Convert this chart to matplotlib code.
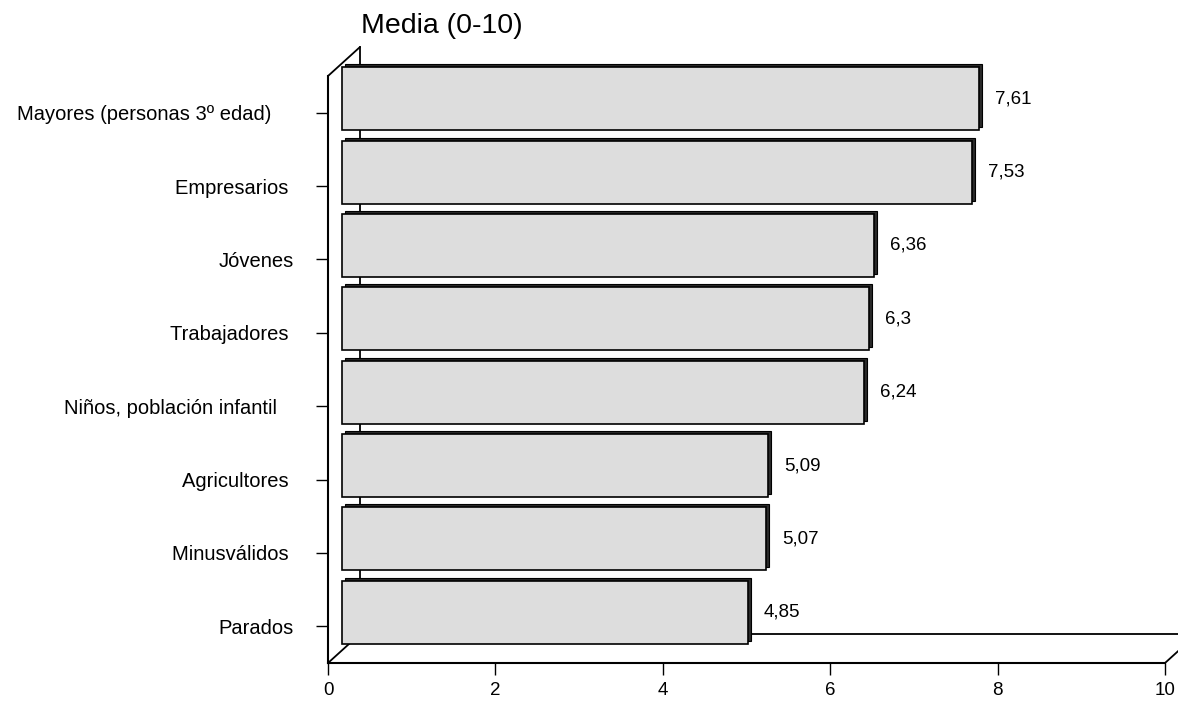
import numpy as np
import matplotlib.pyplot as plt
from matplotlib.transforms import offset_copy

# datos
categorias = ["Mayores (personas 3º edad)    ", "Empresarios ", "Jóvenes", "Trabajadores ",
              "Niños, población infantil   ", "Agricultores ", "Minusválidos ", "Parados"]
medias = [7.61, 7.53, 6.36, 6.3, 6.24, 5.09, 5.07, 4.85]
etiquetas = ["7,61", "7,53", "6,36", "6,3", "6,24", "5,09", "5,07", "4,85"]
xticks = [0, 2, 4, 6, 8, 10]

plt.rcParams['font.family'] = ['Liberation Sans', 'DejaVu Sans']

fig = plt.figure(figsize=(11.78, 7.02), dpi=100)
ax = fig.add_axes([328 / 1178, 39 / 702, 837 / 1178, 587 / 702])

y = np.arange(len(categorias))
# desplazamiento de profundidad (efecto 3D)
frente = offset_copy(ax.transData, fig=fig, x=14, y=14, units='dots')
sombra = offset_copy(ax.transData, fig=fig, x=17, y=17, units='dots')
fondo = offset_copy(ax.transAxes, fig=fig, x=32, y=29, units='dots')

ax.barh(y, medias, height=0.86, color='#2a2a2a', edgecolor='black', linewidth=0.8,
        transform=sombra, zorder=3, clip_on=False)
ax.barh(y, medias, height=0.86, color='#dddddd', edgecolor='black', linewidth=1.2,
        transform=frente, zorder=4, clip_on=False)

for i in range(len(medias)):
    ax.annotate(etiquetas[i], xy=(medias[i], y[i]), xytext=(30, 14), textcoords='offset pixels',
                ha='left', va='center', fontsize=13.5, zorder=5)

# paredes del fondo
ax.plot([0, 0], [0, 1], transform=fondo, color='black', lw=1.3, zorder=1, clip_on=False)
ax.plot([0, 1.2], [0, 0], transform=fondo, color='black', lw=1.3, zorder=1, clip_on=False)
for pt in [(0, 1), (0, 0), (1, 0)]:
    ax.annotate('', xy=pt, xycoords='axes fraction', xytext=(32, 29), textcoords='offset pixels',
                arrowprops=dict(arrowstyle='-', shrinkA=0, shrinkB=0, lw=1.3, color='black'),
                annotation_clip=False, zorder=1)

ax.annotate('Media (0-10)', xy=(0, 1), xycoords='axes fraction', xytext=(33, 43),
            textcoords='offset pixels', ha='left', va='baseline', fontsize=20.5)

ax.set_xlim(0, 10)
ax.set_ylim(len(categorias) - 0.5, -0.5)
ax.set_xticks(xticks)
ax.set_yticks(y, categorias)
ax.tick_params(axis='x', length=8.6, width=1, pad=5, labelsize=13.5)
ax.tick_params(axis='y', length=8.6, width=1, pad=16, labelsize=14.5)
for s in ['top', 'right']:
    ax.spines[s].set_visible(False)
for s in ['left', 'bottom']:
    ax.spines[s].set_linewidth(1.5)
ax.patch.set_alpha(0)

plt.savefig("out.png", dpi=100)
